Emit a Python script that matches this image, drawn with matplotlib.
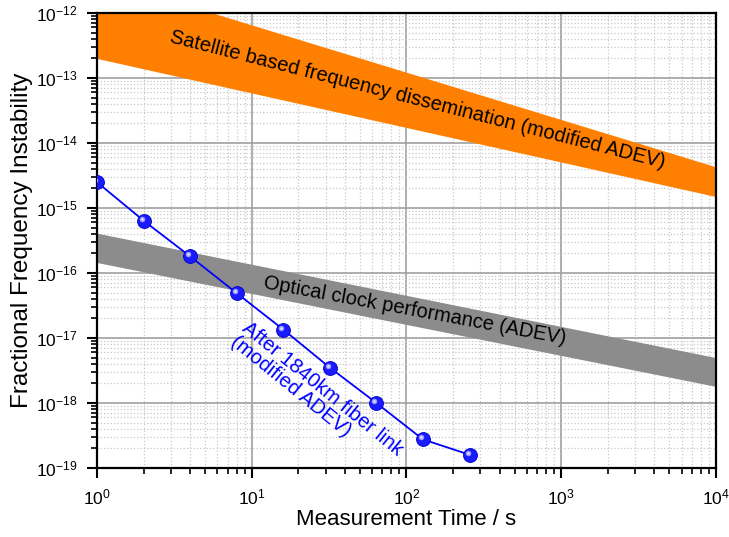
import numpy as np
import matplotlib
matplotlib.use('Agg')
import matplotlib.pyplot as plt
import matplotlib.transforms as mtransforms
from matplotlib.ticker import LogLocator, NullFormatter

plt.rcParams['font.family'] = ['Liberation Sans', 'DejaVu Sans']
plt.rcParams['mathtext.fontset'] = 'custom'
plt.rcParams['mathtext.rm'] = 'Liberation Sans'
plt.rcParams['mathtext.default'] = 'regular'

# fiber link data (modified ADEV)
tau = [1, 2, 4, 8, 16, 32, 64, 128, 256]
adev_fiber = [2.5e-15, 6.4e-16, 1.8e-16, 4.9e-17, 1.35e-17, 3.5e-18, 1.0e-18, 2.75e-19, 1.6e-19]

# bands, given at tau = 1 and tau = 1e4
band_tau = [1, 1e4]
sat_top = [3.5e-12, 4.3e-15]
sat_bot = [2.0e-13, 1.5e-15]
clock_top = [4.1e-16, 5.0e-18]
clock_bot = [1.45e-16, 1.8e-18]

fig = plt.figure(figsize=(7.29, 5.37), dpi=100)
ax = fig.add_axes([0.133, 0.1285, 0.849, 0.8473])

ax.fill_between(band_tau, sat_bot, sat_top, color='#ff8000', lw=0, zorder=2)
ax.fill_between(band_tau, clock_bot, clock_top, color='#8c8c8c', lw=0, zorder=2)

ax.plot(tau, adev_fiber, color='#0000ff', lw=1.3, zorder=4)
ax.plot(tau, adev_fiber, 'o', ms=10, mfc='#1a1aff', mec='#0000c8', mew=0.6, zorder=5)
# little highlight on each sphere
hl = mtransforms.offset_copy(ax.transData, fig=fig, x=-1.4, y=1.4, units='points')
ax.plot(tau, adev_fiber, 'o', ms=4, mfc='#9a9aff', mec='none', transform=hl, zorder=6)
ax.plot(tau, adev_fiber, 'o', ms=1.8, mfc='#e8e8ff', mec='none', transform=hl, zorder=6)

ax.set_xscale('log')
ax.set_yscale('log')
ax.set_xlim(1, 1e4)
ax.set_ylim(1e-19, 1e-12)

ax.xaxis.set_major_locator(LogLocator(base=10, numticks=10))
ax.xaxis.set_minor_locator(LogLocator(base=10, subs=np.arange(2, 10), numticks=20))
ax.yaxis.set_major_locator(LogLocator(base=10, numticks=10))
ax.yaxis.set_minor_locator(LogLocator(base=10, subs=np.arange(2, 10), numticks=20))
ax.xaxis.set_minor_formatter(NullFormatter())
ax.yaxis.set_minor_formatter(NullFormatter())

ax.grid(which='major', color='#a0a0a0', lw=1.2, zorder=1)
ax.grid(which='minor', color='#c8c8c8', lw=0.9, ls=':', zorder=1)
ax.set_axisbelow(True)

ax.tick_params(which='major', direction='out', length=7, width=1.5, labelsize=12.5, pad=7)
ax.tick_params(which='minor', direction='out', length=4, width=1.2)
ax.tick_params(top=False, right=False)
for s in ax.spines.values():
    s.set_linewidth(1.6)

ax.set_xlabel('Measurement Time / s', fontsize=16, labelpad=1)
ax.set_ylabel('Fractional Frequency Instability', fontsize=17.5)
ax.yaxis.set_label_coords(-0.104, 0.5)

ax.text(118, 4.6e-14, 'Satellite based frequency dissemination (modified ADEV)',
        fontsize=14.5, rotation=-14.3, ha='center', va='center', rotation_mode='anchor', zorder=7)
ax.text(114, 2.6e-17, 'Optical clock performance (ADEV)',
        fontsize=14.5, rotation=-10.5, ha='center', va='center', rotation_mode='anchor', zorder=7)
ax.text(26.5, 1.3e-18, 'After 1840km fiber link\n(modified ADEV)', color='#0000ff',
        fontsize=14.5, rotation=-39, ha='center', va='center', rotation_mode='anchor',
        multialignment='left', linespacing=0.95, zorder=7)

fig.savefig('out.png', dpi=100)
